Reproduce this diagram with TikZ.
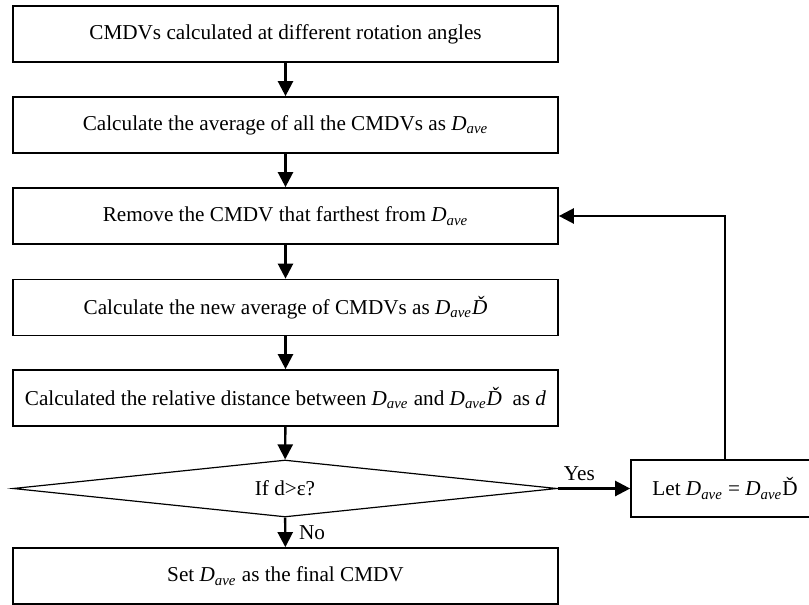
\documentclass[tikz,border=0pt]{standalone}
\usepackage{fontspec}
\setmainfont{Liberation Serif}
\usetikzlibrary{shapes.geometric,arrows.meta}
\newcommand{\Dave}{\textit{D\textsubscript{ave}}}
\newcommand{\Dnew}{\Dave\textit{Ď}}
\begin{document}
\begin{tikzpicture}[
		x=0.5pt, y=-0.5pt,
		font=\fontsize{10.6}{12}\selectfont,
		stepbox/.style={draw, line width=0.85pt, minimum width=272.5pt, minimum height=28pt, inner sep=0pt},
		decision/.style={draw, diamond, aspect=9, line width=0.6pt, minimum width=272pt, minimum height=28.5pt, inner sep=0pt},
		arr/.style={-{Triangle[length=7.5pt,width=7.5pt]}, line width=1.2pt}
	]
	\useasboundingbox (0,0) rectangle (809,605);
	\node[stepbox] (angles) at (285.5,34) {CMDVs calculated at different rotation angles};
	\node[stepbox] (average) at (285.5,125) {Calculate the average of all the CMDVs as \Dave};
	\node[stepbox] (remove) at (285.5,216) {Remove the CMDV that farthest from \Dave};
	\node[stepbox] (newavg) at (285.5,307.5) {Calculate the new average of CMDVs as \Dnew};
	\node[stepbox] (dist) at (285.5,398) {Calculated the relative distance between \Dave{} and \Dnew\enspace as \textit{d}};
	\node[decision] (check) at (285,488.5) {If d>ε?};
	\node[stepbox] (final) at (285.5,576) {Set \Dave{} as the final CMDV};
	\node[draw, line width=0.85pt, minimum width=94pt, minimum height=28.5pt, inner sep=0pt] (update) at (725,488.5) {Let \Dave{} = \Dave Ď\hspace{5pt}};

	\draw[arr] (angles) -- (average);
	\draw[arr] (average) -- (remove);
	\draw[arr] (remove) -- (newavg);
	\draw[arr] (newavg) -- (dist);
	\draw[arr] (dist) -- (check);
	\draw[arr] (check) -- node[right, xshift=3pt] {No} (final);
	\draw[arr] (check.east) -- node[above, pos=0.3] {Yes} (update);
	\draw[arr] (update.north) |- (remove.east);
\end{tikzpicture}
\end{document}
